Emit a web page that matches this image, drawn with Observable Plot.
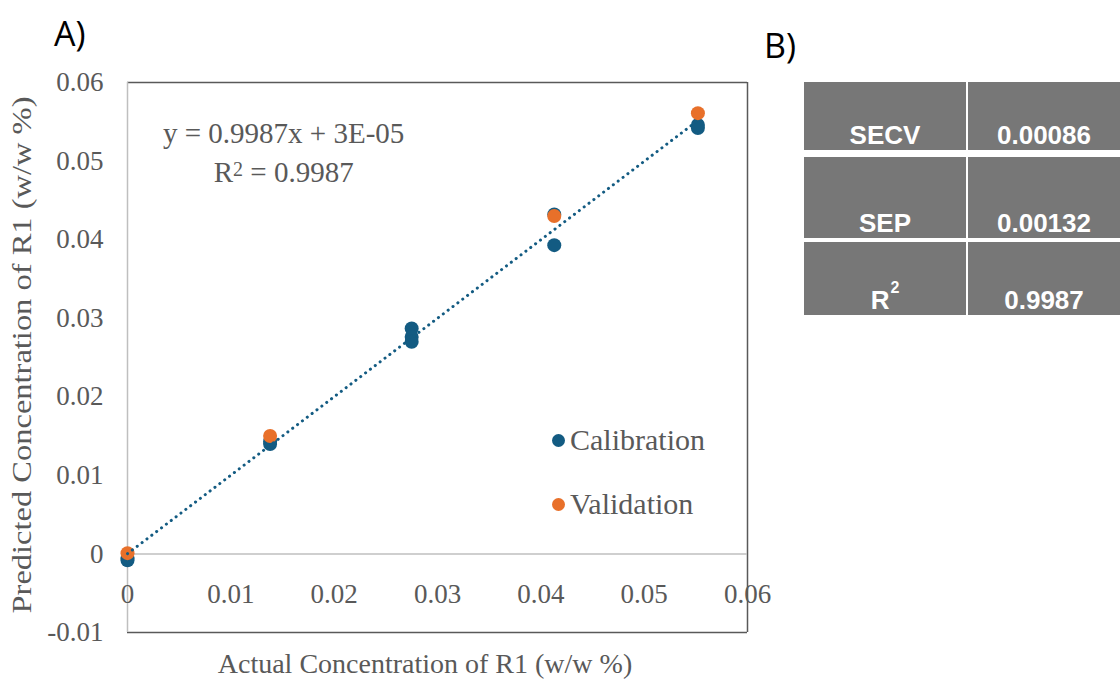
<!DOCTYPE html>
<html>
<head>
<meta charset="utf-8">
<script src="https://cdn.jsdelivr.net/npm/d3@7"></script>
<script src="https://cdn.jsdelivr.net/npm/@observablehq/plot@0.6"></script>
<style>
  html, body { margin: 0; padding: 0; background: #fff; }
  #wrap { position: relative; width: 1120px; height: 689px; overflow: hidden; }
  #chart { position: absolute; left: 0; top: 0; }
  .serif { font-family: "Liberation Serif", "Times New Roman", serif; color: #595959; }
  .panel { position: absolute; font-family: "Open Sans", "Noto Sans", sans-serif; font-size: 34px; color: #000; }
  .cell { position: absolute; background: #777777; color: #fff; font-family: "Liberation Sans", Arial, sans-serif;
          font-weight: bold; font-size: 26px; display: flex; align-items: flex-end; justify-content: center;
          box-sizing: border-box; padding-bottom: 0px; line-height: 30px; }
</style>
</head>
<body>
<div id="wrap">
  <div id="chart"></div>
</div>
<script>
// ---- data ----
const calX = [0, 0, 0.0138, 0.0138, 0.0275, 0.0275, 0.0275, 0.0413, 0.0413, 0.0552, 0.0552];
const calY = [-0.0008, -0.0005, 0.0140, 0.0143, 0.0287, 0.0276, 0.0270, 0.0393, 0.0432, 0.0542, 0.0546];
const valX = [0, 0.0138, 0.0413, 0.0552];
const valY = [0.0001, 0.0150, 0.0430, 0.0561];
const slope = 0.9987;
const intercept = 0.00003;
const xTicks = [0, 0.01, 0.02, 0.03, 0.04, 0.05, 0.06];
const yTicks = [-0.01, 0, 0.01, 0.02, 0.03, 0.04, 0.05, 0.06];
const xDomain = [0, 0.06];
const yDomain = [-0.01, 0.06];
const seriesNames = ["Calibration", "Validation"];
const seriesColors = ["#135b82", "#e8702a"];
const tableRows = ["SECV", "SEP", "R²"];
const tableVals = ["0.00086", "0.00132", "0.9987"];
const equationText = "y = 0.9987x + 3E-05";
const r2Text = "R² = 0.9987";
const xTitle = "Actual Concentration of R1 (w/w %)";
const yTitle = "Predicted Concentration of R1 (w/w %)";

const cal = calX.map((x, i) => ({x, y: calY[i]}));
const val = valX.map((x, i) => ({x, y: valY[i]}));
const allX = calX.concat(valX);
const fitX = [d3.min(allX), d3.max(allX)];
const fit = fitX.map(x => ({x, y: slope * x + intercept}));

const fmt = v => v === 0 ? "0" : String(+v.toFixed(2));

const chart = Plot.plot({
  width: 780,
  height: 689,
  marginLeft: 127,
  marginRight: 33,
  marginTop: 82,
  marginBottom: 57,
  x: {domain: xDomain, axis: null},
  y: {domain: yDomain, axis: null},
  style: {fontFamily: '"Liberation Serif", "Times New Roman", serif', background: "transparent"},
  marks: [
    Plot.ruleY([yDomain[1], yDomain[0]], {stroke: "#595959", strokeWidth: 1.5}),
    Plot.ruleX([xDomain[1]], {stroke: "#595959", strokeWidth: 1.5}),
    Plot.ruleX([0], {stroke: "#bfbfbf", strokeWidth: 1.5}),
    Plot.ruleY([0], {stroke: "#bfbfbf", strokeWidth: 1.5}),
    Plot.text(yTicks, {x: () => 0, y: d => d, text: d => fmt(d), textAnchor: "end", dx: -24,
      fontSize: 27, fill: "#595959"}),
    Plot.text(xTicks, {x: d => d, y: () => 0, text: d => fmt(d), dy: 40,
      fontSize: 27, fill: "#595959"}),
    Plot.dot(cal, {x: "x", y: "y", r: 7, fill: seriesColors[0]}),
    Plot.dot(val, {x: "x", y: "y", r: 7, fill: seriesColors[1]}),
    Plot.line(fit, {x: "x", y: "y", stroke: seriesColors[0], strokeWidth: 3,
      strokeDasharray: "0.1,6", strokeLinecap: "round"})
  ]
});
document.getElementById("chart").appendChild(chart);

const wrap = document.getElementById("wrap");
function addDiv(html, css, cls) {
  const d = document.createElement("div");
  if (cls) d.className = cls;
  d.innerHTML = html;
  d.style.cssText = "position:absolute;white-space:nowrap;" + css;
  wrap.appendChild(d);
  return d;
}
addDiv("A)", "left:54px;top:10px;", "panel");
addDiv("B)", "left:764px;top:22px;", "panel");
addDiv(xTitle, "left:0;width:850px;top:648px;text-align:center;font-size:28px;", "serif");
const yt = addDiv(yTitle, "left:22px;top:355px;font-size:28px;", "serif");
const ytw = yt.getBoundingClientRect().width;
yt.style.transform = `translate(-50%,-50%) rotate(-90deg) scaleX(${517 / ytw})`;
yt.style.left = "22px";
addDiv(equationText + "<br>" + r2Text.replace("²", "<span style='font-size:20px;vertical-align:6px'>2</span>"),
  "left:163px;top:115px;font-size:29px;line-height:36px;text-align:center;color:#595959;", "serif");
seriesNames.forEach((name, i) => {
  addDiv(`<span style="display:inline-block;width:13px;height:13px;border-radius:7px;background:${seriesColors[i]};margin-right:5px;vertical-align:3px"></span>${name}`,
    `left:552px;top:${423 + i * 64}px;font-size:30px;`, "serif");
});
const rowTops = [82, 157, 242];
const rowBottoms = [150, 238, 315];
tableRows.forEach((r, i) => {
  const h = rowBottoms[i] - rowTops[i];
  const label = r.replace("²", "<span style='font-size:16px;position:relative;top:-12px;margin-left:1px'>2</span>");
  addDiv(label, `left:804px;top:${rowTops[i]}px;width:162px;height:${h}px;`, "cell");
  addDiv(tableVals[i], `left:968px;top:${rowTops[i]}px;width:152px;height:${h}px;`, "cell");
});
</script>
</body>
</html>
